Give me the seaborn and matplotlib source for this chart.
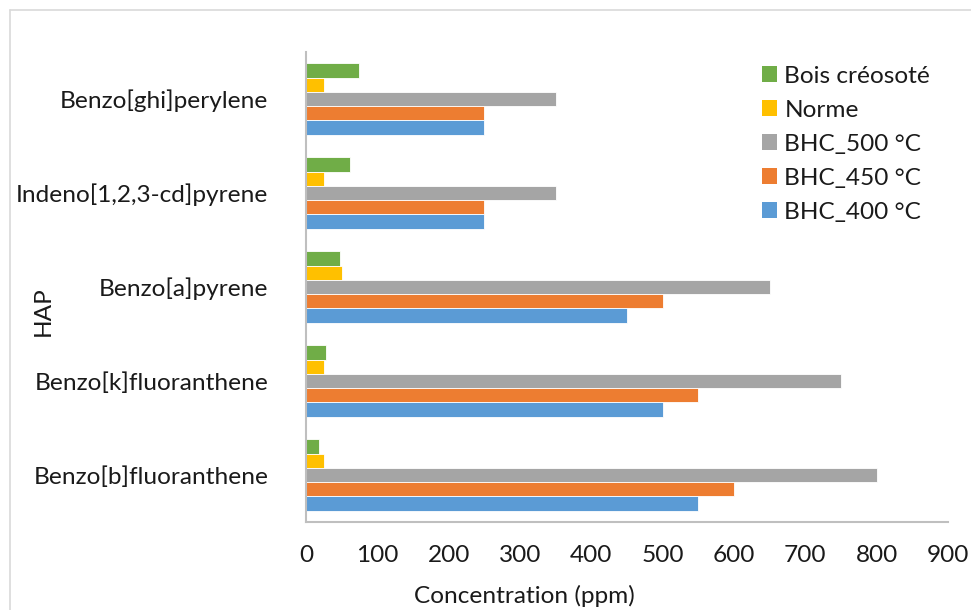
import matplotlib
matplotlib.use("Agg")
import matplotlib.pyplot as plt
from matplotlib.lines import Line2D
from matplotlib.patches import Patch
import seaborn as sns
import pandas as pd

# PAH compounds (top to bottom) and the measured series
compounds = ["Benzo[ghi]perylene", "Indeno[1,2,3-cd]pyrene", "Benzo[a]pyrene",
             "Benzo[k]fluoranthene", "Benzo[b]fluoranthene"]
series = ["Bois créosoté", "Norme", "BHC_500 °C", "BHC_450 °C", "BHC_400 °C"]
bois_creosote = [74, 62, 47, 28, 18]
norme = [25, 25, 50, 25, 25]
bhc_500 = [350, 350, 650, 750, 800]
bhc_450 = [250, 250, 500, 550, 600]
bhc_400 = [250, 250, 450, 500, 550]
x_ticks = [0, 100, 200, 300, 400, 500, 600, 700, 800, 900]

colors = ["#70AD47", "#FFC000", "#A5A5A5", "#ED7D31", "#5B9BD5"]

rows = []
for name, vals in zip(series, [bois_creosote, norme, bhc_500, bhc_450, bhc_400]):
    for comp, v in zip(compounds, vals):
        rows.append({"HAP": comp, "Série": name, "Concentration": v})
df = pd.DataFrame(rows)

sns.set_theme(style="white")
plt.rcParams["font.family"] = ["Lato", "DejaVu Sans"]

FS = 17.6
TXT = "#1a1a1a"

fig = plt.figure(figsize=(9.71, 6.10), dpi=100)
W, H = 971, 610
ax = fig.add_axes([306 / W, 1 - 522 / H, (948 - 306) / W, (522 - 52) / H])

sns.barplot(data=df, y="HAP", x="Concentration", hue="Série",
            order=compounds, hue_order=series, palette=colors,
            orient="h", width=0.76, edgecolor="white", linewidth=0.6,
            saturation=1, legend=False, ax=ax)

ax.set_xlim(0, 900)
ax.set_ylim(4.5, -0.5)
ax.set_xticks(x_ticks)
ax.set_xticklabels([str(t) for t in x_ticks], fontsize=FS, color=TXT)
ax.tick_params(axis="x", length=0, pad=16.5)
ax.tick_params(axis="y", length=0, pad=27, labelsize=FS, labelcolor=TXT)
ax.set_xlabel("")
ax.set_ylabel("")

for side in ["top", "right"]:
    ax.spines[side].set_visible(False)
for side in ["left", "bottom"]:
    ax.spines[side].set_color("#BFBFBF")
    ax.spines[side].set_linewidth(1.5)

fig.text(524 / W, 1 - 596 / H, "Concentration (ppm)", ha="center", va="center",
         fontsize=FS, color=TXT)
fig.text(43 / W, 1 - 311 / H, "HAP", ha="center", va="center", rotation=90,
         fontsize=FS, color=TXT)

handles = [Patch(facecolor=c, edgecolor="none") for c in colors]
fig.legend(handles, series, loc="upper left",
           bbox_to_anchor=(752 / W, 1 - 56 / H), frameon=False,
           fontsize=FS, handlelength=0.62, handleheight=0.62,
           handletextpad=0.3, labelspacing=0.53, borderaxespad=0,
           labelcolor=TXT)

# outer chart border (left and top edges)
fig.add_artist(Line2D([9.5 / W, 9.5 / W], [0, 1 - 10 / H], transform=fig.transFigure,
                      color="#D9D9D9", linewidth=1.2))
fig.add_artist(Line2D([9.5 / W, 1], [1 - 10 / H, 1 - 10 / H], transform=fig.transFigure,
                      color="#D9D9D9", linewidth=1.2))

fig.savefig("out.png", dpi=100, facecolor="white")
